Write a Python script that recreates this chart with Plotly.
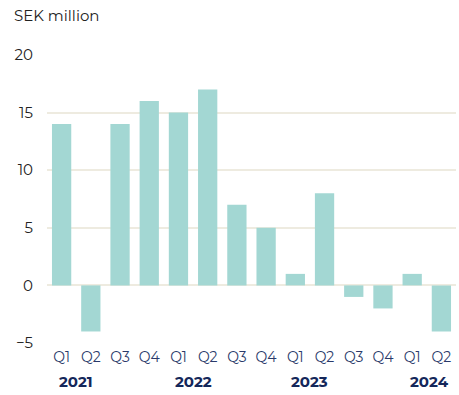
import plotly.graph_objects as go

quarters = ["Q1", "Q2", "Q3", "Q4", "Q1", "Q2", "Q3", "Q4", "Q1", "Q2", "Q3", "Q4", "Q1", "Q2"]
values = [14, -4, 14, 16, 15, 17, 7, 5, 1, 8, -1, -2, 1, -4]
years = ["2021", "2022", "2023", "2024"]
year_pos = [0.5, 4.5, 8.5, 12.6]
y_ticks = [-5, 0, 5, 10, 15, 20]

FONT = "Montserrat, 'Open Sans', 'Noto Sans', sans-serif"
xs = list(range(len(values)))

fig = go.Figure()
fig.add_trace(go.Bar(x=xs, y=values, marker=dict(color="#a3d7d3", line=dict(width=0)),
                     width=0.66, hoverinfo="skip"))

for yr, xp in zip(years, year_pos):
    fig.add_annotation(x=xp, xref="x", y=-0.135, yref="paper", text="<b>" + yr + "</b>",
                       showarrow=False, font=dict(family=FONT, size=15, color="#14275a"),
                       xanchor="center", yanchor="middle")

fig.add_annotation(x=0, xref="paper", y=1, yref="paper", text="SEK million", showarrow=False,
                   xanchor="left", yanchor="middle", xshift=-35, yshift=40,
                   font=dict(family=FONT, size=15, color="#222222"))

fig.update_layout(
    width=459, height=395,
    margin=dict(l=47, r=3, t=55, b=52),
    paper_bgcolor="white", plot_bgcolor="white",
    showlegend=False,
    bargap=0.35,
    xaxis=dict(tickmode="array", tickvals=xs, ticktext=quarters, range=[-0.5, 13.5],
               showgrid=False, zeroline=False, showline=False, ticks="",
               tickfont=dict(family=FONT, size=14, color="#2a3a6a"), ticklabelstandoff=4),
    yaxis=dict(range=[-5, 20], tickmode="array", tickvals=y_ticks,
               showgrid=True, gridcolor="#eeebe0", gridwidth=1.5,
               zeroline=True, zerolinecolor="#eeebe0", zerolinewidth=1.5,
               showline=False, ticks="", ticklabelstandoff=13,
               tickfont=dict(family=FONT, size=15, color="#222222")),
)

fig.write_html("out.html")
